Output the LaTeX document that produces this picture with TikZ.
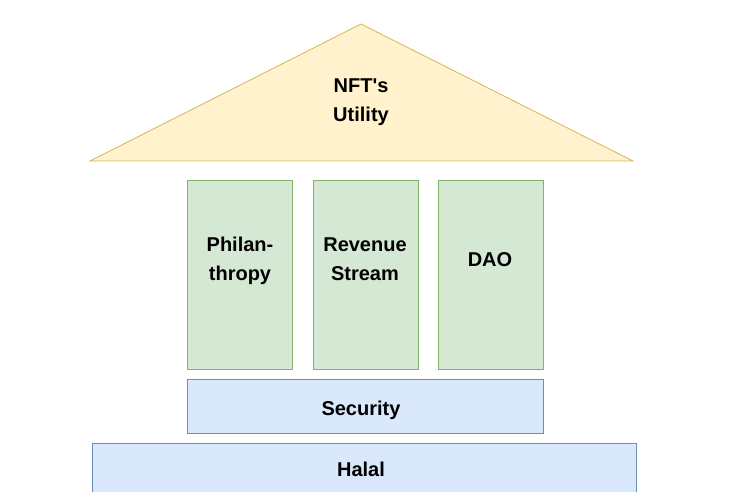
\documentclass[tikz,border=0pt]{standalone}
\usepackage{fontspec}
\setmainfont{Liberation Sans}
\definecolor{yf}{HTML}{FFF2CC}\definecolor{yd}{HTML}{D6B656}
\definecolor{gf}{HTML}{D5E8D4}\definecolor{gd}{HTML}{82B366}
\definecolor{bf}{HTML}{DAE8FC}\definecolor{bd}{HTML}{6C8EBF}
\begin{document}
\begin{tikzpicture}[x=1pt,y=-1pt,
  lbl/.style={font=\fontsize{20}{29}\selectfont\bfseries,align=center,text=black},
  pillar/.style={fill=gf,draw=gd,line width=0.8pt},
  slab/.style={fill=bf,draw=bd,line width=0.8pt}]
\useasboundingbox[fill=white] (0,0) rectangle (737,492);
\draw[fill=yf,draw=yd,line width=0.8pt] (361,24) -- (633,161) -- (90,161) -- cycle;
\node[lbl] (roof) at (361,102) {NFT\textquotesingle s\\Utility};
\draw[pillar] (187,180) rectangle (292,369);
\draw[pillar] (313,180) rectangle (418,369);
\draw[pillar] (438,180) rectangle (543,369);
\node[lbl] (p1) at (240,261) {Philan-\\thropy};
\node[lbl] (p2) at (365,259) {Revenue\\Stream};
\node[lbl] (p3) at (490,260) {DAO};
\draw[slab] (187,379) rectangle (543,433);
\node[lbl] (sec) at (361,410) {Security};
\draw[slab] (92,443) rectangle (636,496);
\node[lbl] (hal) at (361,469) {Halal};
\end{tikzpicture}
\end{document}
